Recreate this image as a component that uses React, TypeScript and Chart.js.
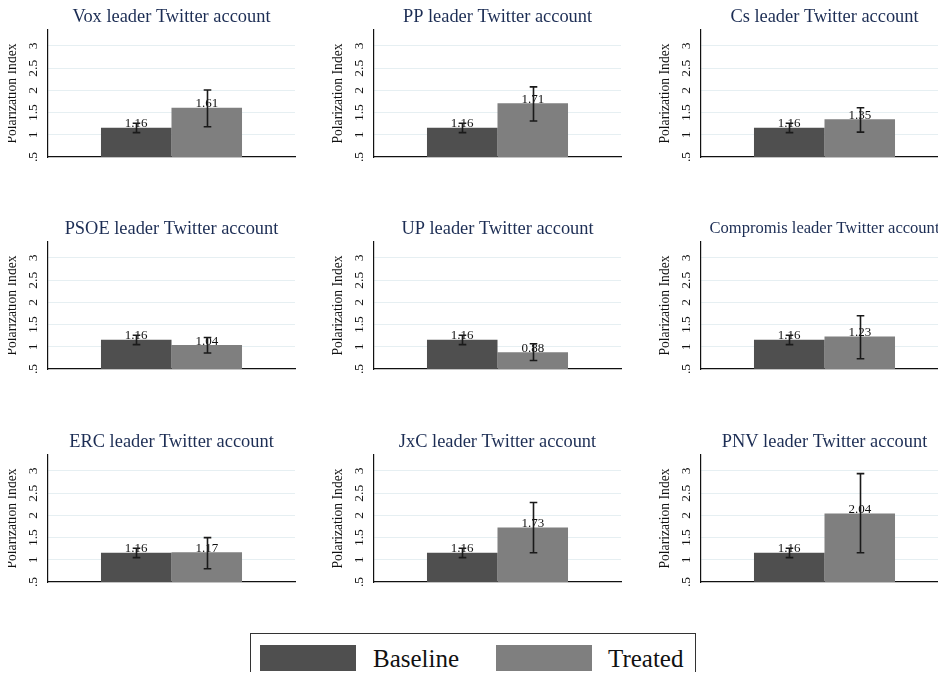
import React, { useEffect, useRef } from "react";
import { Chart, registerables } from "chart.js";

Chart.register(...registerables);

const FONT = "'Liberation Serif', 'Times New Roman', serif";

const panelTitles = [
  "Vox leader Twitter account",
  "PP leader Twitter account",
  "Cs leader Twitter account",
  "PSOE leader Twitter account",
  "UP leader Twitter account",
  "Compromis leader Twitter account",
  "ERC leader Twitter account",
  "JxC leader Twitter account",
  "PNV leader Twitter account",
];
const seriesNames = ["Baseline", "Treated"];
const seriesColors = ["#4f4f4f", "#7f7f7f"];

const baselineMean = [1.16, 1.16, 1.16, 1.16, 1.16, 1.16, 1.16, 1.16, 1.16];
const baselineLow = [1.05, 1.05, 1.05, 1.05, 1.05, 1.05, 1.05, 1.05, 1.05];
const baselineHigh = [1.26, 1.26, 1.26, 1.26, 1.26, 1.26, 1.26, 1.26, 1.26];

const treatedMean = [1.61, 1.71, 1.35, 1.04, 0.88, 1.23, 1.17, 1.73, 2.04];
const treatedLow = [1.18, 1.31, 1.06, 0.86, 0.69, 0.73, 0.8, 1.16, 1.16];
const treatedHigh = [2.01, 2.08, 1.61, 1.21, 1.07, 1.7, 1.5, 2.29, 2.94];

const yTicks = [0.5, 1, 1.5, 2, 2.5, 3];
const yTickLabels = [".5", "1", "1.5", "2", "2.5", "3"];
const yMin = 0.5;
const yMax = 3.36;
const yTitle = "Polarization Index";

const TITLE_SIZE = 18.4;
const TITLE_MAX_W = 230;

function fitTitleSize(text: string): number {
  const c = document.createElement("canvas").getContext("2d");
  if (!c) return TITLE_SIZE;
  c.font = `${TITLE_SIZE}px ${FONT}`;
  const w = c.measureText(text).width;
  return w > TITLE_MAX_W ? (TITLE_SIZE * TITLE_MAX_W) / w : TITLE_SIZE;
}

const errorBarPlugin = {
  id: "errorBarsAndLabels",
  afterDatasetsDraw(chart: any) {
    const ctx = chart.ctx;
    const ys = chart.scales.y;
    ctx.save();
    chart.data.datasets.forEach((ds: any, i: number) => {
      const meta = chart.getDatasetMeta(i);
      meta.data.forEach((bar: any, j: number) => {
        ctx.font = `13px ${FONT}`;
        ctx.fillStyle = "#111";
        ctx.textAlign = "center";
        ctx.textBaseline = "alphabetic";
        ctx.fillText(ds.data[j].toFixed(2), bar.x, bar.y - 0.5);
      });
    });
    chart.data.datasets.forEach((ds: any, i: number) => {
      const meta = chart.getDatasetMeta(i);
      meta.data.forEach((bar: any, j: number) => {
        const lo = ys.getPixelForValue(ds.errLow[j]);
        const hi = ys.getPixelForValue(ds.errHigh[j]);
        const x = Math.round(bar.x) + 0.5;
        ctx.strokeStyle = "#1a1a1a";
        ctx.lineWidth = 1.6;
        ctx.beginPath();
        ctx.moveTo(x, lo);
        ctx.lineTo(x, hi);
        ctx.moveTo(x - 3.8, lo);
        ctx.lineTo(x + 3.8, lo);
        ctx.moveTo(x - 3.8, hi);
        ctx.lineTo(x + 3.8, hi);
        ctx.stroke();
      });
    });
    ctx.restore();
  },
};

function Panel({ index, left, top }: { index: number; left: number; top: number }) {
  const ref = useRef<HTMLCanvasElement | null>(null);
  useEffect(() => {
    if (!ref.current) return;
    const chart = new Chart(ref.current, {
      type: "bar",
      data: {
        labels: [""],
        datasets: [
          {
            label: seriesNames[0],
            data: [baselineMean[index]],
            errLow: [baselineLow[index]],
            errHigh: [baselineHigh[index]],
            backgroundColor: seriesColors[0],
            borderWidth: 0,
            barPercentage: 1,
            categoryPercentage: 0.571,
          } as any,
          {
            label: seriesNames[1],
            data: [treatedMean[index]],
            errLow: [treatedLow[index]],
            errHigh: [treatedHigh[index]],
            backgroundColor: seriesColors[1],
            borderWidth: 0,
            barPercentage: 1,
            categoryPercentage: 0.571,
          } as any,
        ],
      },
      options: {
        responsive: false,
        devicePixelRatio: 1,
        animation: false,
        events: [],
        layout: { padding: { left: 0, right: 31, top: 0, bottom: 13 } },
        plugins: {
          legend: { display: false },
          tooltip: { enabled: false },
          title: {
            display: true,
            text: panelTitles[index],
            fullSize: false,
            color: "#1c2d54",
            font: { family: FONT, size: fitTitleSize(panelTitles[index]), weight: "normal" as any, lineHeight: "22px" },
            padding: { top: 6, bottom: 2 },
          },
        },
        scales: {
          x: {
            type: "category",
            display: true,
            grid: { display: false, drawTicks: false },
            ticks: { display: false },
            border: { display: true, color: "#111", width: 1.2 },
          },
          y: {
            type: "linear",
            min: yMin,
            max: yMax,
            afterBuildTicks: (scale: any) => {
              scale.ticks = yTicks.map((v) => ({ value: v }));
            },
            afterFit: (scale: any) => {
              scale.width = 48;
              scale.paddingTop = 0;
              scale.paddingBottom = 0;
            },
            grid: {
              drawTicks: false,
              color: (c: any) => (c.tick && c.tick.value === yMin ? "rgba(0,0,0,0)" : "#e6eff2"),
              lineWidth: 1,
            },
            border: { display: true, color: "#111", width: 1.2 },
            ticks: {
              minRotation: 90,
              maxRotation: 90,
              crossAlign: "center",
              padding: 6,
              color: "#111",
              font: { family: FONT, size: 13.5 },
              callback: (v: any) => {
                const k = yTicks.indexOf(Number(v));
                return k >= 0 ? yTickLabels[k] : "";
              },
            },
            title: {
              display: true,
              text: yTitle,
              color: "#111",
              font: { family: FONT, size: 13.6 },
              padding: { top: 4, bottom: 0 },
            },
          },
        },
      } as any,
      plugins: [errorBarPlugin],
    });
    return () => chart.destroy();
  }, [index]);
  return (
    <canvas
      ref={ref}
      width={326}
      height={170}
      style={{ position: "absolute", left, top, width: 326, height: 170 }}
    />
  );
}

const colLefts = [0, 326, 653];
const rowTops = [0, 212, 425];

export default function App() {
  const textStyle: React.CSSProperties = {
    position: "absolute",
    fontFamily: FONT,
    fontSize: 25,
    lineHeight: "25px",
    color: "#111",
    whiteSpace: "nowrap",
  };
  return (
    <div
      style={{
        position: "relative",
        margin: -8,
        width: 946,
        height: 680,
        overflow: "hidden",
        background: "#fff",
      }}
    >
      {panelTitles.map((_, i) => (
        <Panel key={i} index={i} left={colLefts[i % 3]} top={rowTops[Math.floor(i / 3)]} />
      ))}
      <div
        style={{
          position: "absolute",
          left: 250,
          top: 633,
          width: 446,
          height: 70,
          border: "1px solid #333",
          boxSizing: "border-box",
        }}
      />
      <div style={{ position: "absolute", left: 260, top: 645, width: 96, height: 26, background: seriesColors[0] }} />
      <div style={{ ...textStyle, left: 373, top: 646 }}>{seriesNames[0]}</div>
      <div style={{ position: "absolute", left: 496, top: 645, width: 96, height: 26, background: seriesColors[1] }} />
      <div style={{ ...textStyle, left: 608, top: 646 }}>{seriesNames[1]}</div>
    </div>
  );
}
